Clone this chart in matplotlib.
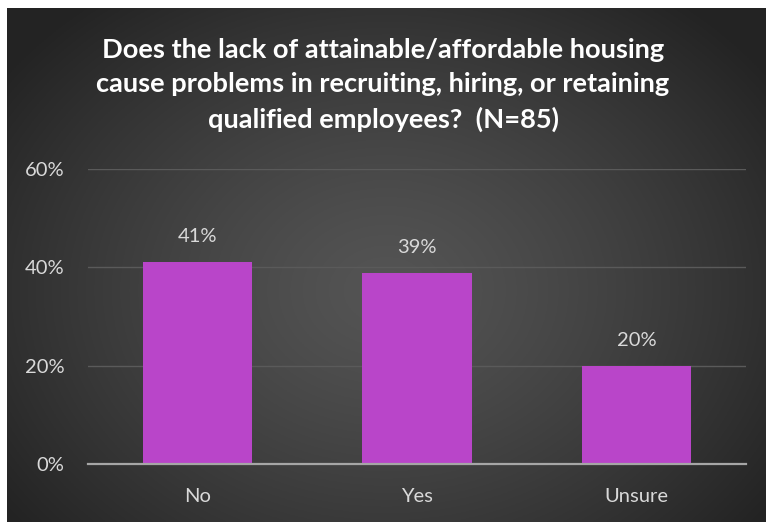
import numpy as np
import matplotlib.pyplot as plt
from matplotlib.ticker import PercentFormatter

# Survey responses (N=85)
categories = ['No', 'Yes', 'Unsure']
counts = [35, 33, 17]
total = 85
shares = [c / total for c in counts]
yticks = [0, 0.2, 0.4, 0.6]

bar_color = '#B945C9'
text_color = '#D9D9D9'
grid_color = '#5A5A5A'

plt.rcParams['font.family'] = ['Lato', 'DejaVu Sans']

fig = plt.figure(figsize=(7.66, 5.22), dpi=100)
fig.patch.set_facecolor('white')

# dark radial gradient behind the chart
bg = fig.add_axes([7 / 766, 0, 759 / 766, 514 / 522])
bg.set_axis_off()
yy, xx = np.mgrid[0:1:300j, 0:1:450j]
r = np.sqrt(((xx - 0.5) / 0.62) ** 2 + ((yy - 0.55) / 0.72) ** 2)
shade = np.clip(0.33 - 0.19 * r ** 1.3, 0.14, 0.34)
bg.imshow(np.dstack([shade] * 3), aspect='auto', extent=[0, 1, 0, 1])

ax = fig.add_axes([88 / 766, 1 - 464 / 522, 658 / 766, 295 / 522])
ax.set_facecolor('none')
x = np.arange(len(categories))
bars = ax.bar(x, shares, width=0.5, color=bar_color, zorder=3)

ax.set_xlim(-0.5, len(categories) - 0.5)
ax.set_ylim(0, 0.6)
ax.set_yticks(yticks)
ax.yaxis.set_major_formatter(PercentFormatter(1.0, decimals=0))
ax.set_xticks(x)
ax.set_xticklabels(categories)
ax.tick_params(axis='both', length=0, colors=text_color, labelsize=14.5)
ax.tick_params(axis='y', pad=17)
ax.tick_params(axis='x', pad=17)
ax.grid(axis='y', color=grid_color, linewidth=1, zorder=0)
for s in ['top', 'right', 'left']:
    ax.spines[s].set_visible(False)
ax.spines['bottom'].set_color('#A6A6A6')
ax.spines['bottom'].set_linewidth(1.6)
ax.spines['bottom'].set_zorder(4)

for b, v in zip(bars, shares):
    ax.annotate(f'{v:.0%}', (b.get_x() + b.get_width() / 2, v),
                xytext=(0, 12), textcoords='offset points',
                ha='center', va='bottom', color=text_color, fontsize=14.5)

fig.text(0.5, 1 - 85 / 522,
         'Does the lack of attainable/affordable housing\n'
         'cause problems in recruiting, hiring, or retaining\n'
         'qualified employees?  (N=85)',
         ha='center', va='center', color='white', fontsize=19.6,
         fontweight='bold', linespacing=1.5)

fig.savefig('out.png', dpi=100)
